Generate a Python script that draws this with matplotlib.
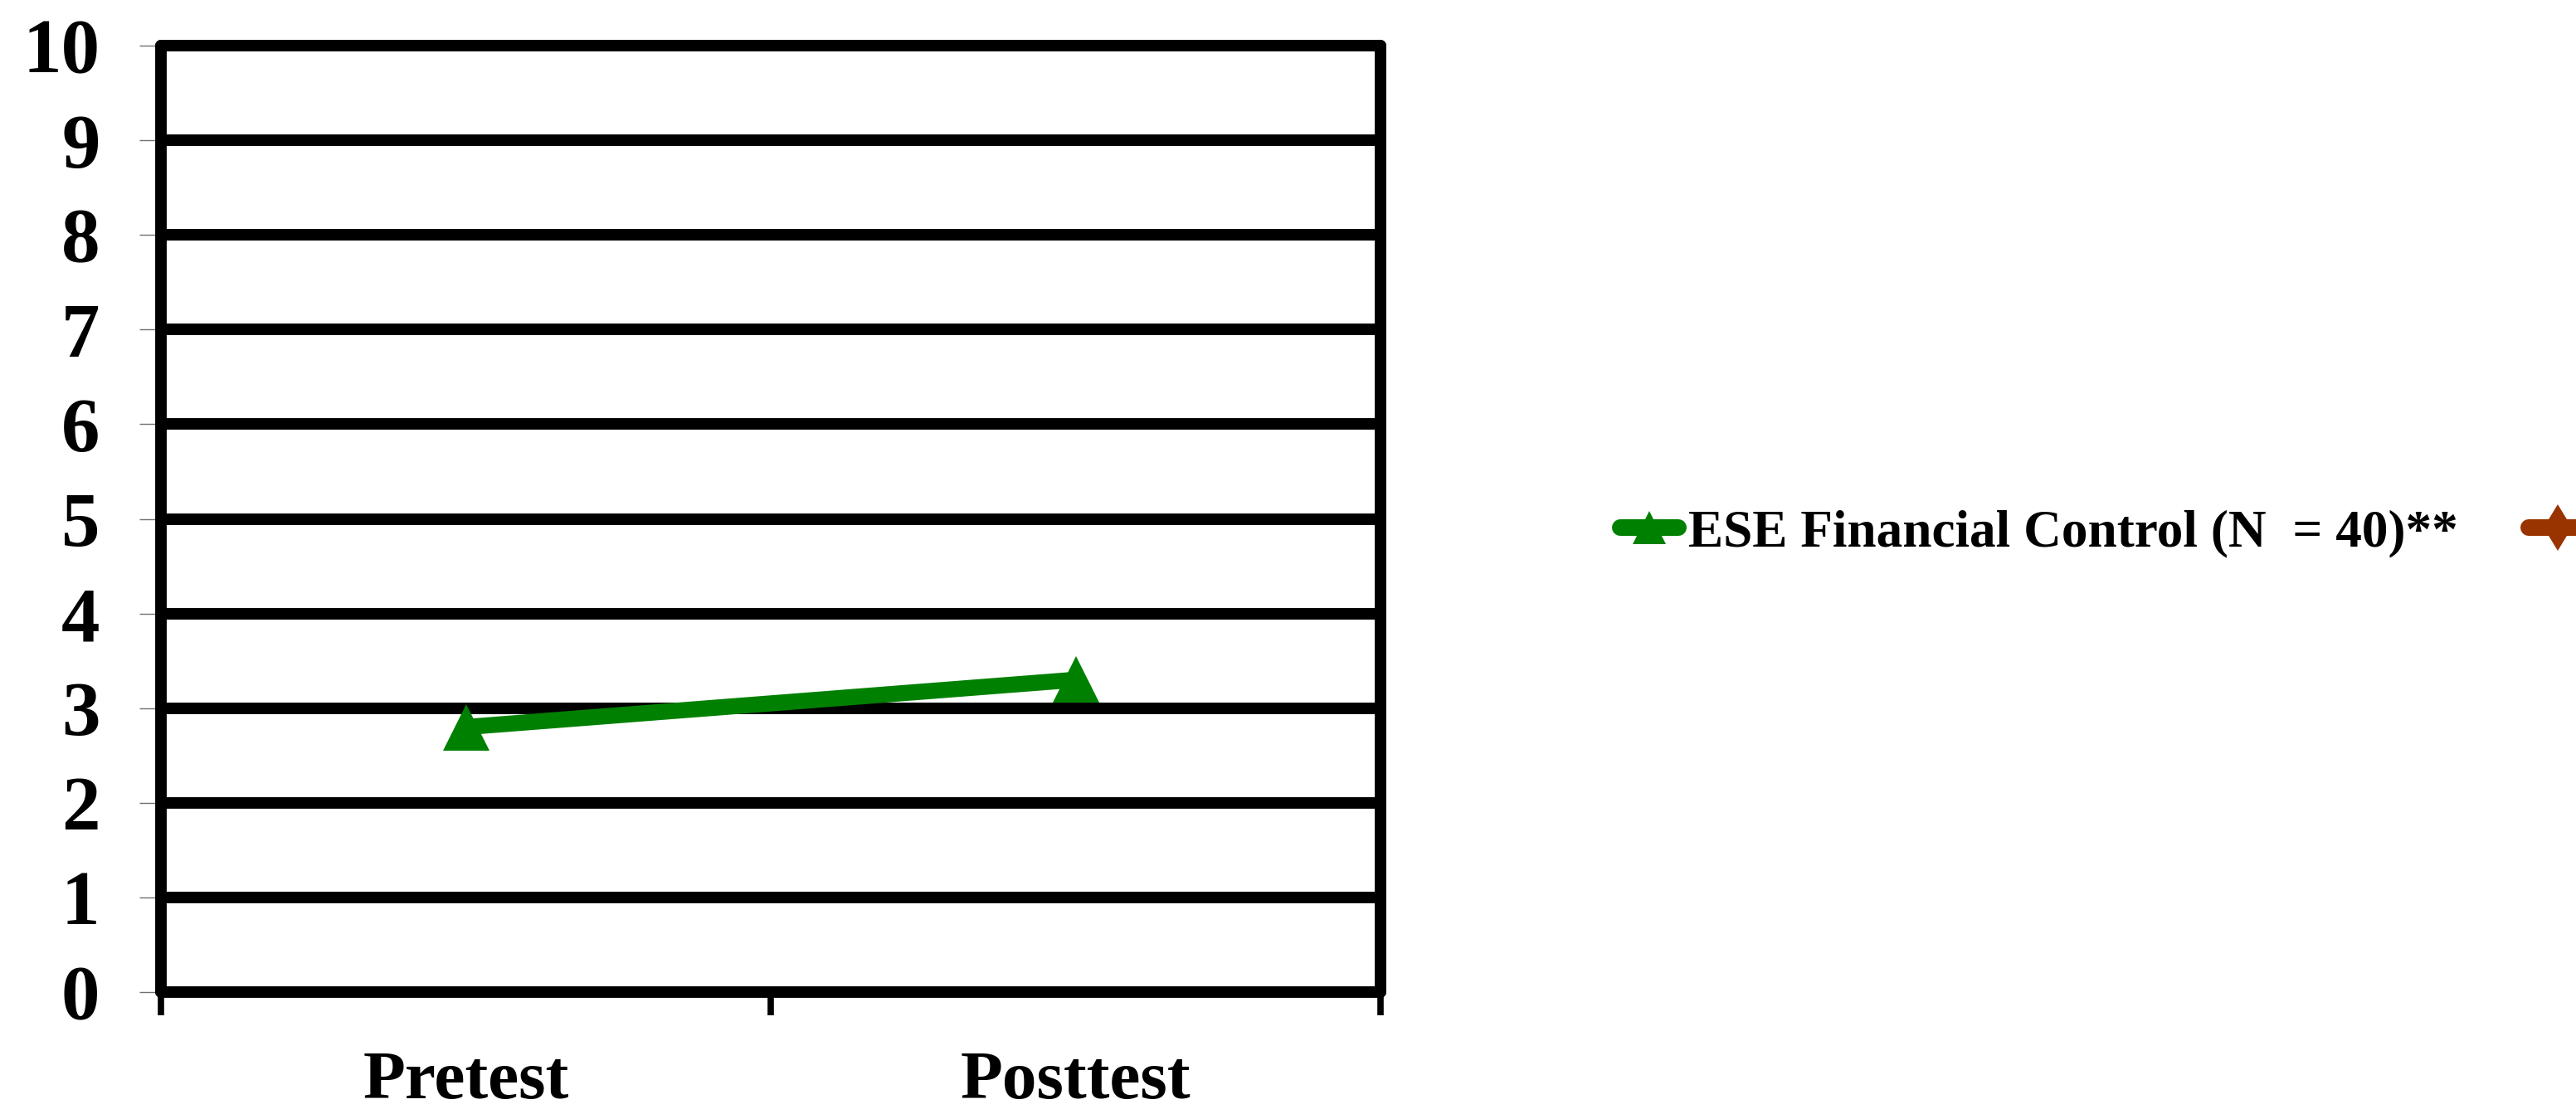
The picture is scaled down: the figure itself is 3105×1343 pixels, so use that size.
import matplotlib
matplotlib.use("Agg")
import matplotlib.pyplot as plt
from matplotlib.lines import Line2D

categories = ["Pretest", "Posttest"]
control_values = [2.8, 3.3]
series_labels = ["ESE Financial Control (N  = 40)**", ""]
y_ticks = list(range(0, 11))

W, H, DPI = 3105, 1343, 100
fig = plt.figure(figsize=(W / DPI, H / DPI), dpi=DPI)
plt.rcParams['font.family'] = ['Liberation Serif', 'DejaVu Serif']

left, right, top, bottom = 194, 1664, 55, 1196
ax = fig.add_axes([left / W, 1 - bottom / H, (right - left) / W, (bottom - top) / H])

xpos = [i + 0.5 for i in range(len(categories))]
ax.set_xlim(0, len(categories))
ax.set_ylim(0, 10)

for y in y_ticks[1:-1]:
    ax.axhline(y, color="black", lw=10, zorder=1, solid_capstyle="butt")

ax.plot(xpos, control_values, color="#008000", lw=14, marker="^", ms=40,
        markeredgewidth=0, zorder=3, solid_capstyle="round")

for name, sp in ax.spines.items():
    sp.set_color("black")
    sp.set_capstyle("round")
    sp.set_linewidth(10)
    sp.set_zorder(2)

ax.set_yticks(y_ticks)
ax.set_yticklabels([str(v) for v in y_ticks], fontsize=67, fontweight="bold")
ax.tick_params(axis="y", length=19, width=1, color="#707070", pad=34)

ax.set_xticks([0, 1, 2])
ax.set_xticklabels([])
ax.tick_params(axis="x", which="major", length=20, width=5.5, color="black")
ax.set_xticks(xpos, minor=True)
ax.set_xticklabels(categories, minor=True, fontsize=60, fontweight="bold")
ax.tick_params(axis="x", which="minor", length=0, pad=51)

handles = [
    Line2D([], [], color="#008000", lw=14.4, marker="^", ms=29, markeredgewidth=0,
           solid_capstyle="round"),
    Line2D([], [], color="#993300", lw=14.4, marker="d", ms=29, markeredgewidth=0,
           solid_capstyle="round"),
]
leg = fig.legend(handles, series_labels, loc="center left",
                 bbox_to_anchor=(1953 / W, 1 - 643 / H), ncol=2, frameon=False,
                 prop={"family": "Liberation Serif", "weight": "bold", "size": 45.5},
                 handlelength=1.1, handletextpad=0.2, columnspacing=1.35,
                 borderpad=0, borderaxespad=0)

fig.savefig("out.png", dpi=DPI)
